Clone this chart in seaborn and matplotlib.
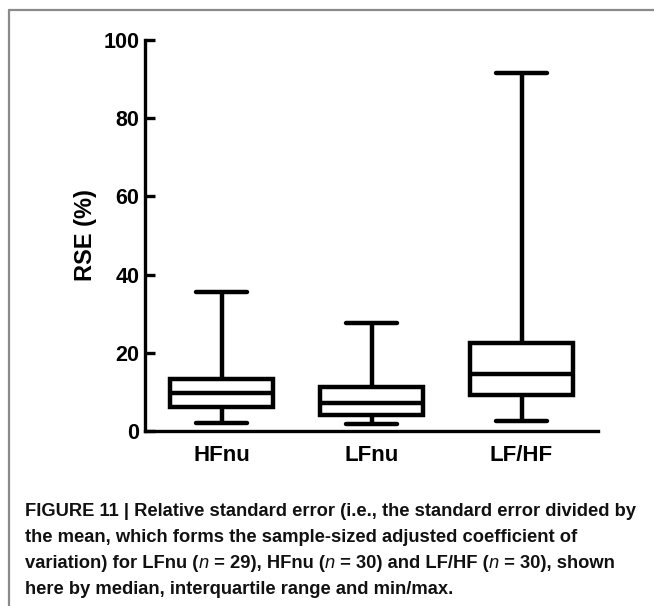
import numpy as np
import pandas as pd
import seaborn as sns
import matplotlib.pyplot as plt
from matplotlib.lines import Line2D

# Valores (min, Q1, mediana, Q3, max)
categorias = ["HFnu", "LFnu", "LF/HF"]
minimos = [2.0, 1.7, 2.6]
q1 = [6.2, 4.1, 9.2]
medianas = [9.8, 7.1, 14.6]
q3 = [13.3, 11.2, 22.4]
maximos = [35.5, 27.7, 91.6]

# Cinco valores por grupo: los percentiles reproducen exactamente el resumen
filas = []
for i, cat in enumerate(categorias):
    for v in [minimos[i], q1[i], medianas[i], q3[i], maximos[i]]:
        filas.append({"grupo": cat, "rse": v})
datos = pd.DataFrame(filas)

sns.set_style("white")
plt.rcParams['font.family'] = ['Liberation Sans', 'DejaVu Sans']
plt.rcParams['text.color'] = 'black'
plt.rcParams['axes.labelcolor'] = 'black'

fig = plt.figure(figsize=(6.54, 6.06), dpi=100)
ax = fig.add_axes([145 / 654, 1 - 431 / 606, (598 - 145) / 654, (431 - 40) / 606])

sns.boxplot(data=datos, x="grupo", y="rse", order=categorias, ax=ax,
            color="white", linecolor="black", linewidth=3.2, width=0.69,
            whis=(0, 100), fliersize=0)

ax.set_xlim(-0.51, 2.51)
ax.set_ylim(0, 100)
ax.set_yticks([0, 20, 40, 60, 80, 100])
ax.set_xlabel("")
ax.set_ylabel("RSE (%)", fontsize=17, fontweight="bold", labelpad=5, color="black")
for s in ["top", "right"]:
    ax.spines[s].set_visible(False)
for s in ["left", "bottom"]:
    ax.spines[s].set_linewidth(2.4)
    ax.spines[s].set_color("black")
ax.tick_params(axis="y", left=True, direction="in", length=7, width=2.4, pad=4,
               labelsize=15.5, colors="black")
ax.tick_params(axis="x", length=0, pad=10, labelsize=16, colors="black")
for lab in ax.get_xticklabels() + ax.get_yticklabels():
    lab.set_fontweight("bold")

# Marco gris de la figura
fig.add_artist(Line2D([9 / 654, 9 / 654], [0, 1 - 10 / 606],
                      transform=fig.transFigure, color="#8a8a8a", lw=1.6))
fig.add_artist(Line2D([9 / 654, 1], [1 - 10 / 606, 1 - 10 / 606],
                      transform=fig.transFigure, color="#8a8a8a", lw=1.6))

# Pie de figura, con la n en cursiva
lineas = [
    ["FIGURE 11 | Relative standard error (i.e., the standard error divided by"],
    ["the mean, which forms the sample-sized adjusted coefficient of"],
    ["variation) for LFnu (", "n", " = 29), HFnu (", "n", " = 30) and LF/HF (",
     "n", " = 30), shown"],
    ["here by median, interquartile range and min/max."],
]
ys = [511, 537, 564, 590]
tam = 13.2
for partes, y in zip(lineas, ys):
    prev = None
    for k, p in enumerate(partes):
        estilo = "italic" if p == "n" else "normal"
        peso = "normal" if p == "n" else "bold"
        if prev is None:
            prev = fig.text(25 / 654, 1 - y / 606, p, fontsize=tam, fontweight=peso,
                            fontstyle=estilo, va="center", ha="left", color="#111111")
        else:
            prev = ax.annotate(p, xy=(1, 0), xycoords=prev, va="bottom", ha="left",
                               fontsize=tam, fontweight=peso, fontstyle=estilo,
                               color="#111111", annotation_clip=False)

fig.savefig("out.png", dpi=100)
